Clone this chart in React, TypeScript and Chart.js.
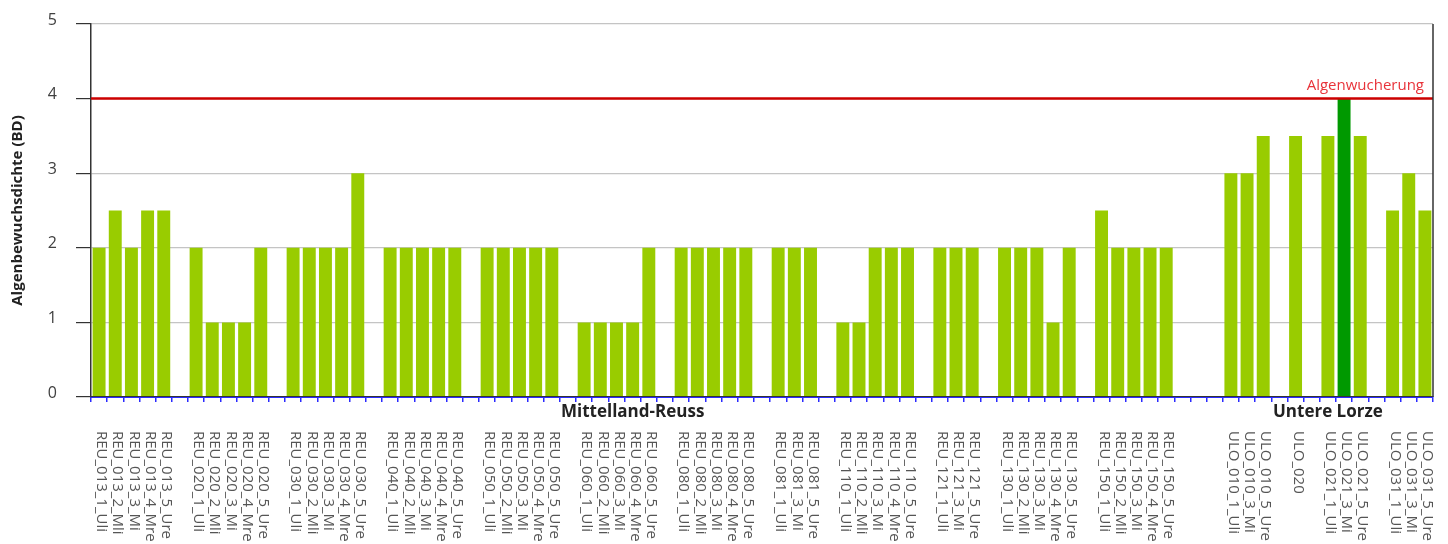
import React, { useEffect, useRef } from 'react';
import { Chart, registerables } from 'chart.js';
Chart.register(...registerables);

const categories: string[] = [
  'REU_013_1_Uli', 'REU_013_2_Mli', 'REU_013_3_Mi', 'REU_013_4_Mre', 'REU_013_5_Ure', '',
  'REU_020_1_Uli', 'REU_020_2_Mli', 'REU_020_3_Mi', 'REU_020_4_Mre', 'REU_020_5_Ure', '',
  'REU_030_1_Uli', 'REU_030_2_Mli', 'REU_030_3_Mi', 'REU_030_4_Mre', 'REU_030_5_Ure', '',
  'REU_040_1_Uli', 'REU_040_2_Mli', 'REU_040_3_Mi', 'REU_040_4_Mre', 'REU_040_5_Ure', '',
  'REU_050_1_Uli', 'REU_050_2_Mli', 'REU_050_3_Mi', 'REU_050_4_Mre', 'REU_050_5_Ure', '',
  'REU_060_1_Uli', 'REU_060_2_Mli', 'REU_060_3_Mi', 'REU_060_4_Mre', 'REU_060_5_Ure', '',
  'REU_080_1_Uli', 'REU_080_2_Mli', 'REU_080_3_Mi', 'REU_080_4_Mre', 'REU_080_5_Ure', '',
  'REU_081_1_Uli', 'REU_081_3_Mi', 'REU_081_5_Ure', '',
  'REU_110_1_Uli', 'REU_110_2_Mli', 'REU_110_3_Mi', 'REU_110_4_Mre', 'REU_110_5_Ure', '',
  'REU_121_1_Uli', 'REU_121_3_Mi', 'REU_121_5_Ure', '',
  'REU_130_1_Uli', 'REU_130_2_Mli', 'REU_130_3_Mi', 'REU_130_4_Mre', 'REU_130_5_Ure', '',
  'REU_150_1_Uli', 'REU_150_2_Mli', 'REU_150_3_Mi', 'REU_150_4_Mre', 'REU_150_5_Ure', '', '', '',
  'ULO_010_1_Uli', 'ULO_010_3_Mi', 'ULO_010_5_Ure', '',
  'ULO_020', '',
  'ULO_021_1_Uli', 'ULO_021_3_Mi', 'ULO_021_5_Ure', '',
  'ULO_031_1_Uli', 'ULO_031_3_Mi', 'ULO_031_5_Ure',
];

const values: (number | null)[] = [
  2, 2.5, 2, 2.5, 2.5, null,
  2, 1, 1, 1, 2, null,
  2, 2, 2, 2, 3, null,
  2, 2, 2, 2, 2, null,
  2, 2, 2, 2, 2, null,
  1, 1, 1, 1, 2, null,
  2, 2, 2, 2, 2, null,
  2, 2, 2, null,
  1, 1, 2, 2, 2, null,
  2, 2, 2, null,
  2, 2, 2, 1, 2, null,
  2.5, 2, 2, 2, 2, null, null, null,
  3, 3, 3.5, null,
  3.5, null,
  3.5, 4, 3.5, null,
  2.5, 3, 2.5,
];

const highlighted: string[] = ['ULO_021_3_Mi'];
const groupNames: string[] = ['Mittelland-Reuss', 'Untere Lorze'];
const groupFirst: string[] = ['REU_013_1_Uli', 'ULO_010_1_Uli'];
const groupLast: string[] = ['REU_150_5_Ure', 'ULO_031_5_Ure'];
const thresholdValue = 4;
const thresholdLabel = 'Algenwucherung';
const yTitle = 'Algenbewuchsdichte (BD)';
const yMin = 0;
const yMax = 5;
const yStep = 1;

const FONT = '"Open Sans", "Noto Sans", sans-serif';

const overlayPlugin = {
  id: 'overlay',
  afterDatasetsDraw(chart: any) {
    const { ctx, chartArea, scales } = chart;
    const y = scales.y;
    ctx.save();
    // zero line (dark)
    const zy = y.getPixelForValue(0);
    ctx.strokeStyle = '#333333';
    ctx.lineWidth = 1.2;
    ctx.beginPath();
    ctx.moveTo(chartArea.left - 15, zy - 0.5);
    ctx.lineTo(chartArea.right, zy - 0.5);
    ctx.stroke();
    // threshold line
    const ty = y.getPixelForValue(thresholdValue);
    ctx.strokeStyle = '#cc0000';
    ctx.lineWidth = 2.5;
    ctx.beginPath();
    ctx.moveTo(chartArea.left, ty);
    ctx.lineTo(chartArea.right, ty);
    ctx.stroke();
    ctx.fillStyle = '#e8333a';
    ctx.font = '15px ' + FONT;
    ctx.textAlign = 'right';
    ctx.textBaseline = 'alphabetic';
    ctx.fillText(thresholdLabel, chartArea.right - 9, ty - 9);
    // right border
    ctx.strokeStyle = '#333333';
    ctx.lineWidth = 1.5;
    ctx.beginPath();
    ctx.moveTo(chartArea.right, chartArea.top);
    ctx.lineTo(chartArea.right, chartArea.bottom);
    ctx.stroke();
    ctx.restore();
  },
  afterDraw(chart: any) {
    const { ctx, scales } = chart;
    const x = scales.x;
    ctx.save();
    // rotated category labels
    ctx.fillStyle = '#555555';
    ctx.font = '15px ' + FONT;
    ctx.textAlign = 'left';
    ctx.textBaseline = 'middle';
    categories.forEach((label, i) => {
      if (!label) return;
      const px = x.getPixelForValue(i);
      ctx.save();
      ctx.translate(px + 2.5, 431);
      ctx.rotate(Math.PI / 2);
      ctx.fillText(label, 0, 0);
      ctx.restore();
    });
    // group labels
    ctx.fillStyle = '#222222';
    ctx.font = 'bold 17px ' + FONT;
    ctx.textAlign = 'center';
    ctx.textBaseline = 'middle';
    groupNames.forEach((name, g) => {
      const a = x.getPixelForValue(categories.indexOf(groupFirst[g]));
      const b = x.getPixelForValue(categories.indexOf(groupLast[g]));
      ctx.fillText(name, (a + b) / 2, 412);
    });
    ctx.restore();
  },
};

export default function App() {
  const ref = useRef<HTMLCanvasElement | null>(null);
  useEffect(() => {
    if (!ref.current) return;
    const chart = new Chart(ref.current, {
      type: 'bar',
      data: {
        labels: categories,
        datasets: [
          {
            data: values as any,
            backgroundColor: categories.map((c) => (highlighted.includes(c) ? '#009900' : '#99cc00')),
            barPercentage: 0.8,
            categoryPercentage: 1,
            borderWidth: 0,
          },
        ],
      },
      options: {
        animation: false,
        responsive: true,
        maintainAspectRatio: false,
        layout: { padding: { top: 24, right: 15, left: 0, bottom: 0 } },
        plugins: { legend: { display: false }, tooltip: { enabled: false } },
        scales: {
          x: {
            offset: true,
            grid: {
              offset: true,
              drawOnChartArea: false,
              drawTicks: true,
              tickLength: 5,
              lineWidth: 1.5,
              color: '#2b2bff',
              tickColor: '#2b2bff',
            },
            border: { display: true, color: '#2b2bff', width: 2 },
            ticks: { display: false },
            afterFit: (s: any) => {
              s.height = 147;
              s.paddingLeft = 0;
              s.paddingRight = 0;
            },
          },
          y: {
            min: yMin,
            max: yMax,
            ticks: {
              stepSize: yStep,
              color: '#404040',
              font: { family: FONT, size: 16 },
              padding: 19,
              labelOffset: -4,
            },
            grid: {
              color: '#c4c4c4',
              tickColor: '#333333',
              tickLength: 15,
              lineWidth: 1.2,
            },
            border: { display: true, color: '#333333', width: 1.5 },
            title: {
              display: true,
              text: yTitle,
              color: '#222222',
              font: { family: FONT, size: 15, weight: 'bold' },
              padding: { top: 9, bottom: 0 },
            },
            afterFit: (s: any) => {
              s.width = 91;
              s.paddingTop = 0;
              s.paddingBottom = 0;
            },
          },
        },
      },
      plugins: [overlayPlugin],
    });
    return () => chart.destroy();
  }, []);
  return (
    <div style={{ position: 'fixed', left: 0, top: 0, width: 1448, height: 544, background: '#fff' }}>
      <canvas ref={ref} />
    </div>
  );
}
